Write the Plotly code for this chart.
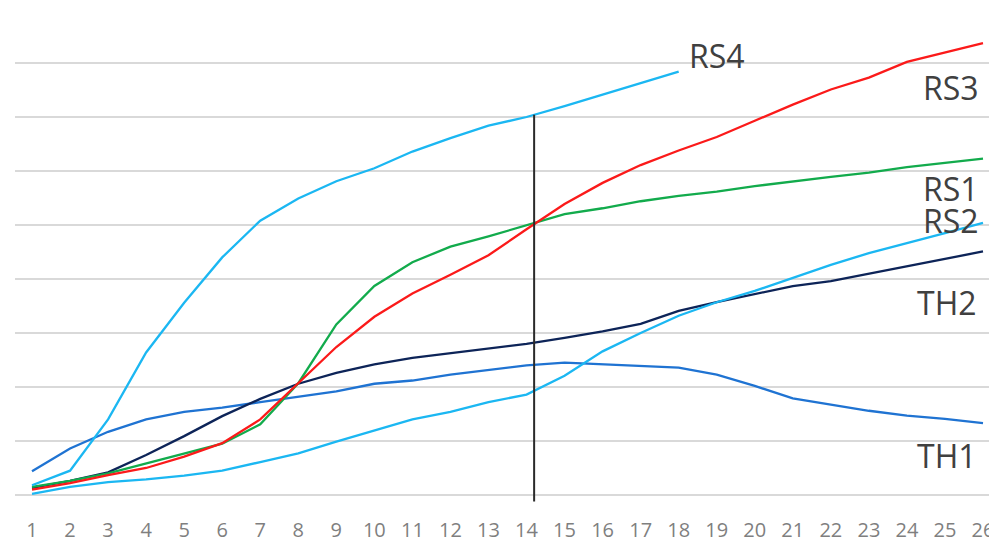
import plotly.graph_objects as go

# ---- data ----
periods = list(range(1, 27))

rs4 = [0.18, 0.45, 1.40, 2.64, 3.56, 4.40, 5.08, 5.49, 5.81, 6.05, 6.36, 6.61, 6.84,
       7.00, 7.20, 7.41, 7.62, 7.84]
rs3 = [0.10, 0.22, 0.37, 0.50, 0.71, 0.96, 1.40, 2.07, 2.74, 3.30, 3.73, 4.08, 4.44,
       4.92, 5.39, 5.78, 6.11, 6.38, 6.63, 6.93, 7.23, 7.51, 7.73, 8.02, 8.19, 8.37]
rs1 = [0.15, 0.26, 0.40, 0.58, 0.76, 0.95, 1.31, 2.07, 3.16, 3.87, 4.31, 4.60, 4.79,
       5.00, 5.20, 5.31, 5.44, 5.54, 5.62, 5.72, 5.81, 5.89, 5.97, 6.07, 6.15, 6.23]
rs2 = [0.02, 0.15, 0.24, 0.29, 0.36, 0.45, 0.61, 0.77, 0.99, 1.20, 1.40, 1.54, 1.72,
       1.86, 2.21, 2.66, 3.00, 3.32, 3.57, 3.78, 4.02, 4.26, 4.48, 4.66, 4.85, 5.04]
th2 = [0.13, 0.26, 0.42, 0.74, 1.09, 1.46, 1.78, 2.06, 2.26, 2.42, 2.54, 2.63, 2.71,
       2.80, 2.91, 3.03, 3.17, 3.41, 3.57, 3.72, 3.87, 3.96, 4.10, 4.23, 4.37, 4.51]
th1 = [0.44, 0.86, 1.17, 1.40, 1.54, 1.62, 1.72, 1.82, 1.92, 2.06, 2.12, 2.23, 2.31,
       2.40, 2.45, 2.42, 2.38, 2.36, 2.23, 2.02, 1.79, 1.67, 1.56, 1.47, 1.41, 1.33]

# vertical marker line
marker_x = [14.2, 14.2]
marker_y = [-0.12, 7.04]

# series labels: (text, x, y, anchor)
labels = [("RS4", 18.22, 8.13, "left"),
          ("RS3", 25.95, 7.54, "right"),
          ("RS1", 25.95, 5.67, "right"),
          ("RS2", 25.95, 5.09, "right"),
          ("TH2", 25.90, 3.57, "right"),
          ("TH1", 25.90, 0.74, "right")]

series = [
    ("TH1", th1, "#1f73d2"),
    ("TH2", th2, "#0d2458"),
    ("RS2", rs2, "#1bb7f2"),
    ("RS1", rs1, "#12ab4c"),
    ("RS3", rs3, "#fb1a1a"),
    ("RS4", rs4, "#1bb7f2"),
]

fig = go.Figure()
for name, vals, col in series:
    fig.add_trace(go.Scatter(x=periods[:len(vals)], y=vals, mode="lines", name=name,
                             line=dict(color=col, width=2.3), hoverinfo="skip"))

fig.add_trace(go.Scatter(x=marker_x, y=marker_y, mode="lines",
                         line=dict(color="#2a2a2a", width=2), hoverinfo="skip"))

for text, x, y, anchor in labels:
    fig.add_annotation(x=x, y=y, xref="x", yref="y", text=text, showarrow=False,
                       xanchor=anchor, yanchor="middle",
                       font=dict(family="Open Sans", size=32, color="#404040"))

fig.update_layout(
    width=989, height=534,
    margin=dict(l=7, r=0, t=0, b=26),
    paper_bgcolor="white", plot_bgcolor="white",
    showlegend=False,
    font=dict(family="Open Sans"),
    xaxis=dict(range=[0.553, 26.368], tickmode="array", tickvals=periods,
               ticktext=[str(p) for p in periods], showgrid=False, zeroline=False,
               showline=False, ticks="", automargin=False,
               tickfont=dict(family="Open Sans", size=20, color="#7f7f7f")),
    yaxis=dict(range=[-0.389, 9.0185], tickmode="linear", tick0=0, dtick=1,
               showgrid=True, gridcolor="#d9d9d9", gridwidth=2,
               zeroline=False, showline=False, showticklabels=False, automargin=False),
)

fig.write_html("out.html")
